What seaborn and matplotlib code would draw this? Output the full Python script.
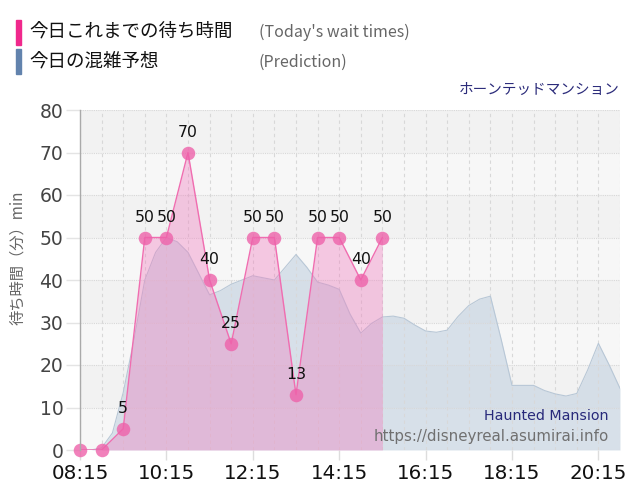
import pandas as pd
import matplotlib
matplotlib.use('Agg')
import matplotlib.pyplot as plt
import matplotlib.dates as mdates
import seaborn as sns

# today's observed wait times (every 30 min)
wait_times = ['08:15', '08:45', '09:15', '09:45', '10:15', '10:45', '11:15', '11:45',
              '12:15', '12:45', '13:15', '13:45', '14:15', '14:45', '15:15']
wait_values = [0, 0, 5, 50, 50, 70, 40, 25, 50, 50, 13, 50, 50, 40, 50]

# prediction curve (every 15 min from 08:15 to 20:45)
pred_values = [0, 0, 0.5, 4, 13.5, 26, 40, 46.5, 50, 49, 46.5, 41.5, 36.5, 37.5, 39, 40,
               41, 40.5, 40, 43, 46, 43, 39.5, 38.8, 37.8, 32, 27.5, 29.8, 31.3, 31.5, 31,
               29.4, 28, 27.7, 28.2, 31.4, 34, 35.5, 36.2, 26, 15.2, 15.2, 15.2, 14, 13.2,
               12.7, 13.3, 18.8, 25.1, 20, 14.5]
pred_start = '08:15'
pred_end = '20:45'

tick_labels = ['08:15', '10:15', '12:15', '14:15', '16:15', '18:15', '20:15']

day = '2024-01-01 '
wait_df = pd.DataFrame({'time': pd.to_datetime([day + t for t in wait_times]),
                        'wait': wait_values})
pred_df = pd.DataFrame({'time': pd.date_range(day + pred_start, day + pred_end, freq='15min'),
                        'wait': pred_values})

sns.set_theme(style='white')
plt.rcParams['font.family'] = ['DejaVu Sans', 'Noto Sans CJK JP']

fig = plt.figure(figsize=(6.4, 5), dpi=100)
ax = fig.add_axes([0.125, 0.1, 0.84375, 0.68])

# striped background
for i in range(8):
    ax.axhspan(i * 10, (i + 1) * 10, color='#f2f2f2' if i % 2 else '#f7f7f7', zorder=0, lw=0)

# prediction
ax.fill_between(pred_df['time'], 0, pred_df['wait'], color='#c6d4e2', alpha=0.65, lw=0, zorder=2)
sns.lineplot(data=pred_df, x='time', y='wait', color='#b8c7d6', lw=0.8, ax=ax, zorder=3)

# today's wait times
ax.fill_between(wait_df['time'], 0, wait_df['wait'], color='#f080c0', alpha=0.4, lw=0, zorder=4)
sns.lineplot(data=wait_df, x='time', y='wait', color='#f06db0', lw=1, ax=ax, zorder=5)
sns.scatterplot(data=wait_df, x='time', y='wait', color='#ee62aa', alpha=0.8, s=95,
                linewidth=0, ax=ax, zorder=6, clip_on=False)
for t, v in zip(wait_df['time'], wait_df['wait']):
    if v > 0:
        ax.annotate(str(v), (t, v), xytext=(0, 9), textcoords='offset points',
                    ha='center', va='bottom', fontsize=11.3, color='#111111', zorder=7)

ax.set_xlim(pd.Timestamp(day + pred_start), pd.Timestamp(day + pred_end))
ax.set_ylim(0, 80)
ax.set_yticks(range(0, 81, 10))
ax.set_xticks(pd.to_datetime([day + t for t in tick_labels]))
ax.set_xticklabels(tick_labels)
ax.xaxis.set_minor_locator(mdates.MinuteLocator(byminute=[15, 45]))

ax.grid(True, which='both', axis='x', color='#d8d8d8', lw=0.8, ls=(0, (3, 3)), zorder=1)
ax.grid(True, which='major', axis='y', color='#d8d8d8', lw=0.8, ls=(0, (1, 1)), zorder=1)
ax.set_axisbelow(False)

ax.tick_params(axis='y', length=10, width=1, color='#e4e4e4', pad=2, labelsize=13.5, labelcolor='#444444')
ax.tick_params(axis='x', which='major', length=7, width=1, color='#dddddd', pad=3, labelsize=14.3, labelcolor='#111111')
ax.tick_params(axis='x', which='minor', length=0)
ax.tick_params(left=True, bottom=True)

for s in ['top', 'right', 'bottom']:
    ax.spines[s].set_visible(False)
ax.spines['left'].set_color('#aaaaaa')
ax.spines['left'].set_linewidth(1)
ax.spines['left'].set_zorder(10)
ax.set_xlabel('')
ax.set_ylabel('')

# header legend
jp = ['Noto Sans CJK JP', 'DejaVu Sans']
fig.patches.append(plt.Rectangle((16 / 640, 1 - 45 / 500), 5 / 640, 25 / 500,
                                 transform=fig.transFigure, color='#f0288c', zorder=5))
fig.patches.append(plt.Rectangle((16 / 640, 1 - 74 / 500), 5 / 640, 25 / 500,
                                 transform=fig.transFigure, color='#6283ad', zorder=5))
fig.text(29 / 640, 1 - 32 / 500, '今日これまでの待ち時間', fontsize=13.3, color='#111111',
         family=jp, va='center')
fig.text(29 / 640, 1 - 62 / 500, '今日の混雑予想', fontsize=13.3, color='#111111',
         family=jp, va='center')
fig.text(259 / 640, 1 - 32 / 500, "(Today's wait times)", fontsize=11.5, color='#666666',
         family=jp, va='center')
fig.text(259 / 640, 1 - 62 / 500, '(Prediction)', fontsize=11.5, color='#666666',
         family=jp, va='center')
fig.text(620 / 640, 1 - 90 / 500, 'ホーンテッドマンション', fontsize=10.5, color='#2b2b7a',
         family=jp, ha='right', va='center')

# y label
fig.text(18 / 640, 1 - 258 / 500, '待ち時間（分）min', fontsize=11, color='#666666',
         family=jp, rotation=90, ha='center', va='center')

# watermark
fig.text(609 / 640, 1 - 416 / 500, 'Haunted Mansion', fontsize=10.3, color='#27297a',
         ha='right', va='center')
fig.text(609 / 640, 1 - 436 / 500, 'https://disneyreal.asumirai.info', fontsize=10.8,
         color='#707070', ha='right', va='center')

fig.savefig('out.png', dpi=100)
